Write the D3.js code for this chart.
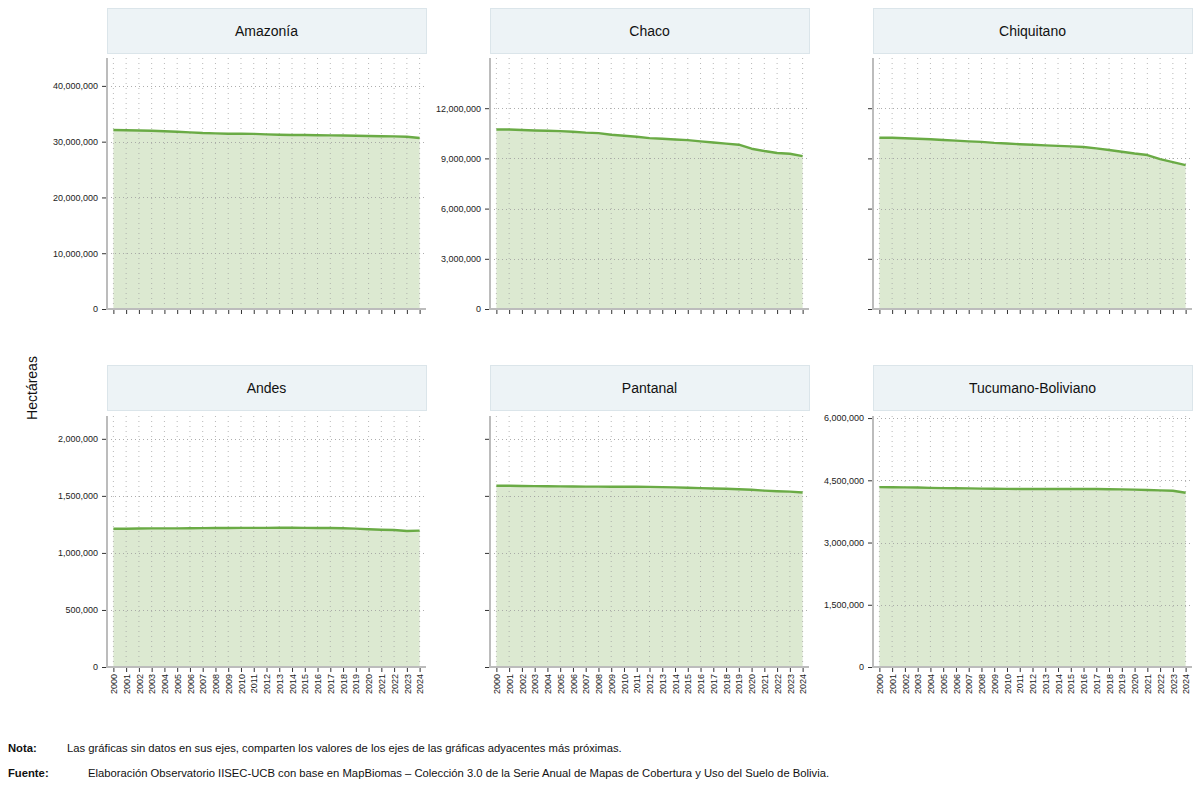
<!DOCTYPE html>
<html>
<head>
<meta charset="utf-8">
<script src="https://cdn.jsdelivr.net/npm/d3@7"></script>
<style>
  body { margin: 0; background: #fff; }
  svg { font-family: "Liberation Sans", Arial, sans-serif; }
</style>
</head>
<body>
<div id="chart"></div>
<script>
// Years shown on the x axis
const years = d3.range(2000, 2025);

// Hectares per ecoregion
const amazonia = [32090000, 32060000, 32000000, 31970000, 31880000, 31790000, 31670000, 31550000, 31490000,
  31430000, 31430000, 31400000, 31310000, 31250000, 31190000, 31190000, 31160000, 31130000, 31100000,
  31070000, 31010000, 30980000, 30950000, 30890000, 30650000];
const chaco = [10730000, 10730000, 10700000, 10670000, 10650000, 10630000, 10590000, 10540000, 10510000,
  10410000, 10350000, 10290000, 10210000, 10170000, 10130000, 10090000, 10020000, 9950000, 9880000,
  9820000, 9580000, 9440000, 9320000, 9280000, 9140000];
const chiquitano = [10230000, 10230000, 10200000, 10170000, 10140000, 10100000, 10060000, 10020000, 9990000,
  9930000, 9890000, 9850000, 9820000, 9780000, 9750000, 9720000, 9680000, 9600000, 9500000,
  9400000, 9290000, 9200000, 8960000, 8780000, 8600000];
const andes = [1212000, 1212000, 1214000, 1215000, 1215000, 1215000, 1216000, 1217000, 1218000,
  1218000, 1219000, 1219000, 1219000, 1221000, 1222000, 1219000, 1218000, 1218000, 1216000,
  1213000, 1207000, 1203000, 1201000, 1192000, 1195000];
const pantanal = [1589000, 1588000, 1586000, 1585000, 1584000, 1583000, 1582000, 1581000, 1581000,
  1580000, 1580000, 1580000, 1579000, 1577000, 1574000, 1571000, 1568000, 1565000, 1562000,
  1558000, 1553000, 1546000, 1541000, 1537000, 1530000];
const tucumano = [4335000, 4333000, 4330000, 4325000, 4318000, 4312000, 4308000, 4305000, 4300000,
  4296000, 4293000, 4292000, 4291000, 4290000, 4290000, 4291000, 4292000, 4289000, 4285000,
  4281000, 4275000, 4266000, 4257000, 4248000, 4200000];

// Axis tick values per row/pair of panels
const ticksAmazonia = [0, 10000000, 20000000, 30000000, 40000000];
const ticksChaco = [0, 3000000, 6000000, 9000000, 12000000];
const ticksAndes = [0, 500000, 1000000, 1500000, 2000000];
const ticksTucumano = [0, 1500000, 3000000, 4500000, 6000000];

const panels = [
  { title: "Amazonía", values: amazonia, yMax: 45000000, ticks: ticksAmazonia, yLabels: true, col: 0, row: 0 },
  { title: "Chaco", values: chaco, yMax: 15000000, ticks: ticksChaco, yLabels: true, col: 1, row: 0 },
  { title: "Chiquitano", values: chiquitano, yMax: 15000000, ticks: ticksChaco, yLabels: false, col: 2, row: 0 },
  { title: "Andes", values: andes, yMax: 2200000, ticks: ticksAndes, yLabels: true, col: 0, row: 1 },
  { title: "Pantanal", values: pantanal, yMax: 2200000, ticks: ticksAndes, yLabels: false, col: 1, row: 1 },
  { title: "Tucumano-Boliviano", values: tucumano, yMax: 6050000, ticks: ticksTucumano, yLabels: true, col: 2, row: 1 }
];

const width = 1200, height = 789;
const colX = [107, 490, 873];
const panelW = 319;
const stripTop = [8, 365];
const stripH = 45;
const plotTop = [58, 416];
const plotH = 251;

const lineColor = "#6aab45";
const fillColor = "#dce9d1";
const fmt = d3.format(",");

const svg = d3.select("#chart").append("svg")
  .attr("width", width)
  .attr("height", height);

panels.forEach(p => {
  const x0 = colX[p.col];
  const y0 = plotTop[p.row];

  const x = d3.scalePoint()
    .domain(years)
    .range([0, panelW])
    .padding(0.5);

  const y = d3.scaleLinear()
    .domain([0, p.yMax])
    .range([plotH, 0]);

  // Strip with the panel title
  svg.append("rect")
    .attr("x", x0 + 0.5)
    .attr("y", stripTop[p.row] + 0.5)
    .attr("width", panelW)
    .attr("height", stripH)
    .attr("fill", "#edf3f6")
    .attr("stroke", "#dbe5ea");

  svg.append("text")
    .attr("x", x0 + panelW / 2)
    .attr("y", stripTop[p.row] + stripH / 2 + 5)
    .attr("text-anchor", "middle")
    .attr("font-size", "14px")
    .attr("fill", "#111")
    .text(p.title);

  const g = svg.append("g")
    .attr("transform", `translate(${x0},${y0})`);

  const data = years.map((yr, i) => ({ year: yr, value: p.values[i] }));

  // Filled area under the line
  g.append("path")
    .datum(data)
    .attr("fill", fillColor)
    .attr("d", d3.area()
      .x(d => x(d.year))
      .y0(y(0))
      .y1(d => y(d.value)));

  // Dotted grid: a vertical line per year, horizontal at the ticks
  g.append("g")
    .selectAll("line")
    .data(years)
    .join("line")
    .attr("x1", d => x(d))
    .attr("x2", d => x(d))
    .attr("y1", 0)
    .attr("y2", plotH)
    .attr("stroke", "#a0a0a0")
    .attr("stroke-opacity", 0.75)
    .attr("stroke-dasharray", "1,4");

  g.append("g")
    .selectAll("line")
    .data(p.ticks.filter(t => t > 0))
    .join("line")
    .attr("x1", 0)
    .attr("x2", panelW)
    .attr("y1", d => Math.round(y(d)) + 0.5)
    .attr("y2", d => Math.round(y(d)) + 0.5)
    .attr("stroke", "#a0a0a0")
    .attr("stroke-opacity", 0.85)
    .attr("stroke-dasharray", "1,3");

  g.append("path")
    .datum(data)
    .attr("fill", "none")
    .attr("stroke", lineColor)
    .attr("stroke-width", 2.4)
    .attr("stroke-linejoin", "round")
    .attr("d", d3.line()
      .x(d => x(d.year))
      .y(d => y(d.value)));

  // Y axis
  const yAxis = g.append("g")
    .call(d3.axisLeft(y)
      .tickValues(p.ticks)
      .tickSize(5)
      .tickPadding(4)
      .tickFormat(p.yLabels ? fmt : ""));
  yAxis.select(".domain").remove();
  yAxis.selectAll(".tick line").attr("stroke", "#333");
  yAxis.selectAll("text")
    .attr("font-size", "9px")
    .attr("font-family", "'Liberation Sans', Arial, sans-serif")
    .attr("fill", "#222");

  g.append("line")
    .attr("x1", 0).attr("x2", 0)
    .attr("y1", 0).attr("y2", plotH)
    .attr("stroke", "#bcbcbc")
    .attr("stroke-width", 2);

  // X axis
  const xAxis = g.append("g")
    .attr("transform", `translate(0,${plotH})`)
    .call(d3.axisBottom(x)
      .tickSize(5)
      .tickPadding(3)
      .tickFormat(p.row === 1 ? d => d : ""));
  xAxis.select(".domain").remove();
  xAxis.selectAll(".tick line").attr("stroke", "#333");
  xAxis.selectAll("text")
    .attr("font-size", "9px")
    .attr("font-family", "'Liberation Sans', Arial, sans-serif")
    .attr("fill", "#222")
    .attr("transform", "rotate(-90)")
    .attr("text-anchor", "end")
    .attr("x", -7)
    .attr("y", 0)
    .attr("dy", "0.35em");

  g.append("line")
    .attr("x1", -1).attr("x2", panelW)
    .attr("y1", plotH).attr("y2", plotH)
    .attr("stroke", "#bcbcbc")
    .attr("stroke-width", 2);
});

// Shared y title
svg.append("text")
  .attr("transform", "translate(37,388) rotate(-90)")
  .attr("text-anchor", "middle")
  .attr("font-size", "14px")
  .attr("fill", "#111")
  .text("Hectáreas");

// Notes
const notes = [
  { label: "Nota:", text: "Las gráficas sin datos en sus ejes, comparten los valores de los ejes de las gráficas adyacentes más próximas.", tx: 67, y: 752 },
  { label: "Fuente:", text: "Elaboración Observatorio IISEC-UCB con base en MapBiomas – Colección 3.0 de la Serie Anual de Mapas de Cobertura y Uso del Suelo de Bolivia.", tx: 88, y: 777 }
];
notes.forEach(n => {
  svg.append("text")
    .attr("x", 8).attr("y", n.y)
    .attr("font-size", "11.25px")
    .attr("font-weight", "bold")
    .attr("fill", "#111")
    .text(n.label);
  svg.append("text")
    .attr("x", n.tx).attr("y", n.y)
    .attr("font-size", "11.25px")
    .attr("fill", "#111")
    .text(n.text);
});
</script>
</body>
</html>
